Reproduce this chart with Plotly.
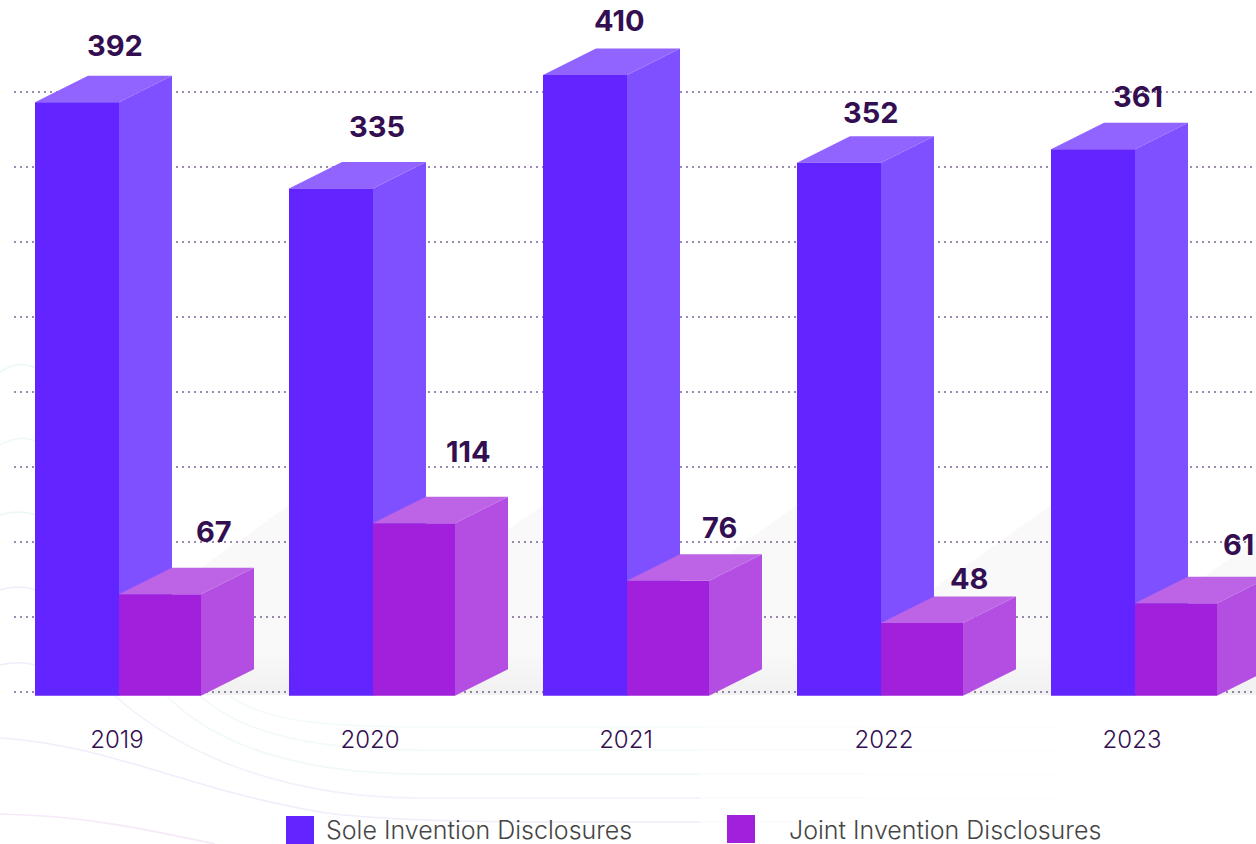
import plotly.graph_objects as go

# Disclosure counts per year
years = ["2019", "2020", "2021", "2022", "2023"]
sole = [392, 335, 410, 352, 361]
joint = [67, 114, 76, 48, 61]
series_names = ["Sole Invention Disclosures", "Joint Invention Disclosures"]
grid_values = [0, 50, 100, 150, 200, 250, 300, 350, 400]

# Canvas and scale set-up, in pixels
W, H = 1256, 844
GROUP_PX = 254
FIRST_BAR_PX = 35
BASE_PX = 695.7
PX_PER_UNIT = 1.5138
GRID_BASE_PX = 692
GRID_PX_PER_UNIT = 1.5
PLOT_LEFT_PX = 14
SOLE_W_PX, JOINT_W_PX = 84, 82
DEPTH_X_PX, DEPTH_Y_PX = 53, 26.5

# Label placement relative to each bar's front-left top corner
sole_label_dx = [80, 88, 76, 74, 87]
sole_label_dy = [57, 62, 55, 50, 53]
joint_label_dx = [95, 95, 92, 88, 103]
joint_label_dy = [63, 72, 53, 45, 59]
tick_nudge_px = [82, 81, 83, 87, 81]

SOLE_FRONT, SOLE_SIDE, SOLE_TOP = "#6225ff", "#7f50ff", "#9163ff"
JOINT_FRONT, JOINT_SIDE, JOINT_TOP = "#a120dc", "#b44ee2", "#bd63e6"
INK = "#330f52"
FONT = "Inter"

dx_units = lambda px: px / GROUP_PX
dy_units = lambda px: px / PX_PER_UNIT
SOLE_W, JOINT_W = dx_units(SOLE_W_PX), dx_units(JOINT_W_PX)
DX, DY = dx_units(DEPTH_X_PX), dy_units(DEPTH_Y_PX)

x_range = [(PLOT_LEFT_PX - FIRST_BAR_PX) / GROUP_PX, (W - FIRST_BAR_PX) / GROUP_PX]
bar_range = [(BASE_PX - H) / PX_PER_UNIT, BASE_PX / PX_PER_UNIT]
grid_range = [(GRID_BASE_PX - H) / GRID_PX_PER_UNIT, GRID_BASE_PX / GRID_PX_PER_UNIT]


def face(xs, ys, color, yaxis):
    return go.Scatter(x=xs, y=ys, mode="lines", fill="toself", fillcolor=color,
                      line=dict(width=0), hoverinfo="skip", showlegend=False,
                      xaxis="x", yaxis=yaxis)


def grid_y(px):
    return (GRID_BASE_PX - px) / GRID_PX_PER_UNIT


fig = go.Figure()

# Soft floor shadow between neighbouring groups
for i in range(len(years)):
    left = i + dx_units(85)
    right = i + dx_units(254)
    xs = [right, left, left, right, right]
    ys = [grid_y(505), grid_y(625), grid_y(695), grid_y(695), grid_y(505)]
    fig.add_trace(face(xs, ys, "rgba(0,0,0,0.022)", "y"))
    fig.add_trace(go.Scatter(
        x=[left, right, right, left, left],
        y=[grid_y(650), grid_y(650), grid_y(695), grid_y(695), grid_y(650)],
        mode="lines", fill="toself", line=dict(width=0), hoverinfo="skip",
        showlegend=False, xaxis="x", yaxis="y",
        fillgradient=dict(type="vertical",
                          colorscale=[[0, "rgba(0,0,0,0.035)"], [1, "rgba(0,0,0,0)"]]),
    ))

# Depth faces of the tall bars sit on their own layer, under every front face
for i, v in enumerate(sole):
    x0, x1 = i, i + SOLE_W
    fig.add_trace(face([x1, x1 + DX, x1 + DX, x1, x1],
                       [v, v + DY, DY, 0, v], SOLE_SIDE, "y2"))
    fig.add_trace(face([x0, x0 + DX, x1 + DX, x1, x0],
                       [v, v + DY, v + DY, v, v], SOLE_TOP, "y2"))

# Front faces
fig.add_trace(go.Bar(x=list(range(len(years))), y=sole, width=SOLE_W, offset=0,
                     marker=dict(color=SOLE_FRONT, line=dict(width=0)),
                     name=series_names[0], showlegend=False, hoverinfo="skip",
                     xaxis="x", yaxis="y3"))
fig.add_trace(go.Bar(x=list(range(len(years))), y=joint, width=JOINT_W, offset=SOLE_W,
                     marker=dict(color=JOINT_FRONT, line=dict(width=0)),
                     name=series_names[1], showlegend=False, hoverinfo="skip",
                     xaxis="x", yaxis="y3"))

# Depth faces of the short bars, over the tall bars' sides
for i, v in enumerate(joint):
    x0, x1 = i + SOLE_W, i + SOLE_W + JOINT_W
    fig.add_trace(face([x1, x1 + DX, x1 + DX, x1, x1],
                       [v, v + DY, DY, 0, v], JOINT_SIDE, "y3"))
    fig.add_trace(face([x0, x0 + DX, x1 + DX, x1, x0],
                       [v, v + DY, v + DY, v, v], JOINT_TOP, "y3"))

annotations = []
for i in range(len(years)):
    annotations.append(dict(x=i, y=sole[i], xref="x", yref="y3", text=str(sole[i]),
                            showarrow=False, xanchor="center", yanchor="middle",
                            xshift=sole_label_dx[i], yshift=sole_label_dy[i],
                            font=dict(family=FONT, size=29, color=INK, weight=700)))
    annotations.append(dict(x=i + SOLE_W, y=joint[i], xref="x", yref="y3", text=str(joint[i]),
                            showarrow=False, xanchor="center", yanchor="middle",
                            xshift=joint_label_dx[i], yshift=joint_label_dy[i],
                            font=dict(family=FONT, size=29, color=INK, weight=700)))


def px(x, y):
    return f"{x / W:.5f},{1 - y / H:.5f}"


def swoosh(points, color):
    """Background contour line from a start point and cubic Bezier triples."""
    start, rest = points[0], points[1:]
    d = "M" + px(*start)
    for j in range(0, len(rest), 3):
        d += " C" + " ".join(px(*p) for p in rest[j:j + 3])
    return dict(type="path", path=d, xref="paper", yref="paper", layer="below",
                line=dict(color=color, width=1.6))


def tail(y, x0=700):
    """Fading right-hand run of a contour line."""
    runs = [(x0, 860, "#f8fbfd"), (860, 960, "#fbfcfe"), (960, 1060, "#fdfdfe")]
    return [dict(type="line", xref="paper", yref="paper", layer="below",
                 x0=a / W, x1=b / W, y0=1 - y / H, y1=1 - y / H,
                 line=dict(color=c, width=1.6)) for a, b, c in runs]


TEAL, MINT, LAV, LILAC, PINK = "#eaf7f5", "#eef9f6", "#f0ecfb", "#efe8fb", "#f6e9f8"
shapes = [
    swoosh([(0, 372), (12, 364), (24, 362), (36, 368)], TEAL),
    swoosh([(0, 445), (12, 438), (24, 436), (36, 441)], MINT),
    swoosh([(0, 515), (12, 511), (24, 511), (36, 515)], TEAL),
    swoosh([(0, 590), (12, 586), (24, 586), (36, 590)], LAV),
    swoosh([(0, 665), (12, 662), (24, 662), (36, 665)], LAV),
    swoosh([(230, 696), (262, 720), (320, 727), (420, 727), (500, 727), (620, 727), (700, 727)], "#f2fbf8"),
    swoosh([(200, 696), (240, 732), (310, 750), (420, 750), (500, 750), (620, 750), (700, 750)], "#f1faf8"),
    swoosh([(167, 696), (215, 745), (300, 774), (420, 774), (500, 774), (620, 774), (700, 774)], "#f1f8fa"),
    swoosh([(115, 696), (170, 745), (270, 798), (420, 798), (500, 798), (620, 798), (700, 798)], "#f3f0fc"),
    swoosh([(0, 738), (110, 745), (190, 790), (320, 812), (400, 824), (560, 822), (700, 822)], "#f1edfb"),
    swoosh([(0, 814), (80, 815), (150, 830), (215, 844)], PINK),
    *tail(727), *tail(750), *tail(774), *tail(798), *tail(822),
    # Legend swatches
    dict(type="rect", xref="paper", yref="paper", layer="above", line=dict(width=0),
         x0=286 / W, x1=314 / W, y0=1 - 844 / H, y1=1 - 816 / H, fillcolor=SOLE_FRONT),
    dict(type="rect", xref="paper", yref="paper", layer="above", line=dict(width=0),
         x0=727 / W, x1=755 / W, y0=1 - 843 / H, y1=1 - 815 / H, fillcolor=JOINT_FRONT),
]

annotations.append(dict(x=324 / W, y=1 - 830 / H, xref="paper", yref="paper",
                        text=series_names[0], showarrow=False, xanchor="left", yanchor="middle",
                        font=dict(family=FONT, size=25, color="#454545", weight=300)))
annotations.append(dict(x=787 / W, y=1 - 830 / H, xref="paper", yref="paper",
                        text=series_names[1], showarrow=False, xanchor="left", yanchor="middle",
                        font=dict(family=FONT, size=25, color="#454545", weight=300)))

fig.update_layout(
    width=W, height=H, autosize=False,
    margin=dict(l=0, r=0, t=0, b=0),
    paper_bgcolor="white", plot_bgcolor="rgba(0,0,0,0)",
    barmode="overlay", showlegend=False,
    shapes=shapes, annotations=annotations,
    xaxis=dict(domain=[PLOT_LEFT_PX / W, 1], range=x_range, showgrid=False, zeroline=False,
               showline=False, anchor="free", position=1 - BASE_PX / H,
               tickmode="array",
               tickvals=[i + dx_units(n) for i, n in enumerate(tick_nudge_px)],
               ticktext=years, ticks="outside", ticklen=22, tickcolor="rgba(0,0,0,0)",
               tickfont=dict(family=FONT, size=24, color=INK, weight=300)),
    yaxis=dict(domain=[0, 1], range=grid_range, tickmode="array", tickvals=grid_values,
               showgrid=True, gridcolor="#9c8ab2", gridwidth=2, griddash="2px,4px",
               zeroline=False, showline=False, showticklabels=False, ticks=""),
    yaxis2=dict(domain=[0, 1], range=bar_range, overlaying="y", visible=False),
    yaxis3=dict(domain=[0, 1], range=bar_range, overlaying="y", visible=False),
)

fig.write_html("out.html")
